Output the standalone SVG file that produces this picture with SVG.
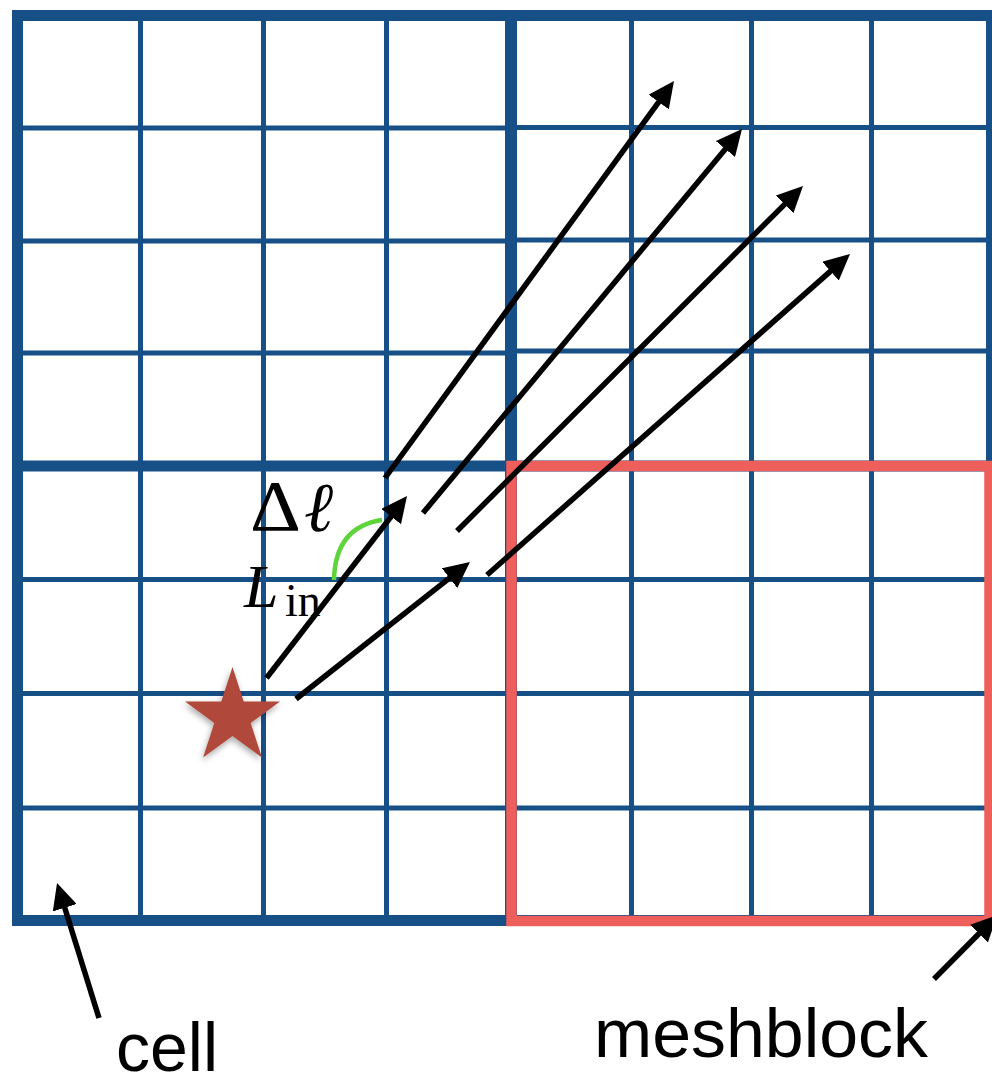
<svg xmlns="http://www.w3.org/2000/svg" width="992" height="1086" viewBox="0 0 992 1086">
  <style>
    .thin { stroke: #174F87; stroke-width: 5; fill: none; }
    .thick { stroke: #174F87; stroke-width: 11; fill: none; }
    .ray { stroke: #000; stroke-width: 5.5; fill: none; marker-end: url(#head); }
    .lbl { font-family: "Liberation Sans", Arial, Helvetica, sans-serif; font-size: 68px; fill: #000; }
    .math { font-family: "Liberation Serif", "DejaVu Serif", "Times New Roman", serif; fill: #000; }
  </style>
  <defs>
    <marker id="head" markerUnits="userSpaceOnUse" markerWidth="26" markerHeight="25" viewBox="0 0 26 25" refX="16" refY="12.5" orient="auto">
      <path d="M0,0 L26,12.5 L0,25 z" fill="#000"/>
    </marker>
    <filter id="shadow" x="-30%" y="-30%" width="160%" height="160%">
      <feDropShadow dx="-1" dy="3" stdDeviation="3" flood-color="#000" flood-opacity="0.35"/>
    </filter>
  </defs>
  <rect width="992" height="1086" fill="#fff"/>

  <g id="grid">
    <path class="thin" d="M140.5,15.5V920.5 M263.5,15.5V920.5 M386.5,15.5V920.5 M631.5,15.5V920.5 M751.5,15.5V920.5 M871.5,15.5V920.5"/>
    <path class="thin" d="M17,128H511 M17,241H511 M17,353H511 M511,127.5H991 M511,240H991 M511,351H991 M17,579.5H991 M17,693.5H991 M17,808H991"/>
    <rect class="thick" x="17.5" y="15.5" width="974" height="905"/>
    <path class="thick" d="M17.5,466H991.5"/>
    <path class="thick" style="stroke-width:12" d="M511,15.5V920.5"/>
  </g>

  <g id="meshblock-highlight">
    <rect x="511.5" y="466" width="478" height="455" fill="none" stroke="#EE5E5A" stroke-width="10.5"/>
  </g>

  <g id="source-star">
    <polygon filter="url(#shadow)" fill="#B0483A" points="232.5,667 243.7,701.5 280,701.5 250.7,722.9 261.9,757.5 232.5,736.1 203.1,757.5 214.3,722.9 185,701.5 221.3,701.5"/>
  </g>

  <g id="angle-arc">
    <path d="M382,520 Q335,527 334,580" fill="none" stroke="#5DD43A" stroke-width="4.5"/>
  </g>

  <g id="connectors">
    <line class="ray" x1="385" y1="478" x2="668.1" y2="89.1"/>
    <line class="ray" x1="423" y1="513" x2="735.6" y2="136.7"/>
    <line class="ray" x1="457" y1="531" x2="795.9" y2="193.1"/>
    <line class="ray" x1="487" y1="575" x2="842.5" y2="260.6"/>
    <line class="ray" x1="266.5" y1="678" x2="400.9" y2="503.9"/>
    <line class="ray" x1="296" y1="699" x2="462.1" y2="568.2"/>
    <line class="ray" x1="99" y1="1018" x2="60" y2="892.5"/>
    <line class="ray" x1="934" y1="979" x2="990.3" y2="922.3"/>
  </g>

  <g id="labels">
    <text class="math" x="250" y="530" font-size="71" textLength="51" lengthAdjust="spacingAndGlyphs">Δ</text>
    <text class="math" x="304" y="531" font-size="70" font-style="italic">ℓ</text>
    <text class="math" x="244" y="607" font-size="62" font-style="italic">L</text>
    <text class="math" x="285" y="616" font-size="46">in</text>
    <text class="lbl" x="116" y="1071" textLength="102" lengthAdjust="spacingAndGlyphs">cell</text>
    <text class="lbl" x="594" y="1057" textLength="334" lengthAdjust="spacingAndGlyphs">meshblock</text>
  </g>
</svg>
